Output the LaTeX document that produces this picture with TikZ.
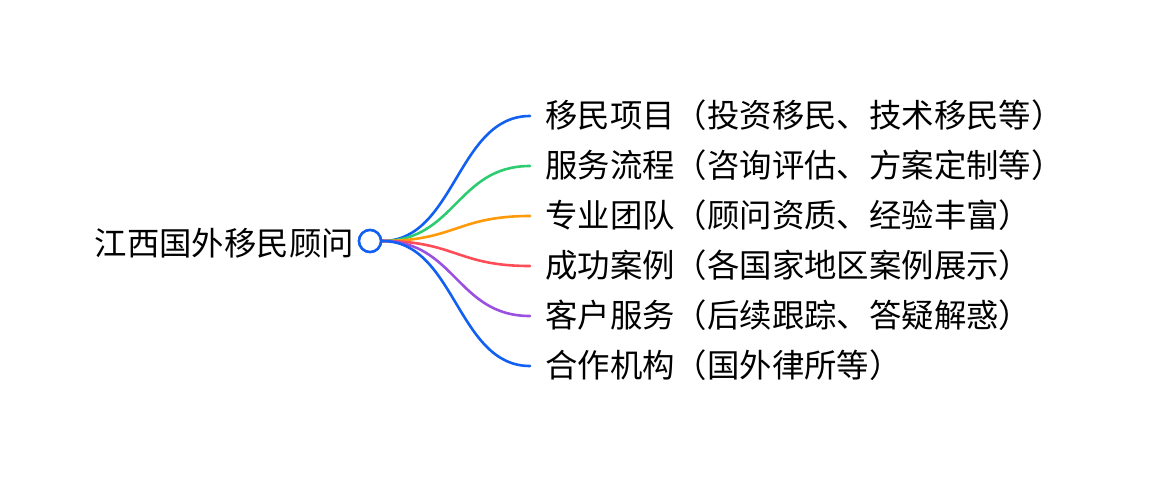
\documentclass[tikz,border=0pt]{standalone}
\usepackage{fontspec}
\usepackage{tikz}
\usetikzlibrary{positioning}
\newfontfamily\cjk{Noto Sans CJK SC}
\definecolor{mapBlue}{HTML}{1160F2}
\definecolor{mapGreen}{HTML}{2ECC71}
\definecolor{mapOrange}{HTML}{FF9A0A}
\definecolor{mapRed}{HTML}{FF4D57}
\definecolor{mapPurple}{HTML}{9B51E0}

\begin{document}
\begin{tikzpicture} [
    x=1pt, y=-1pt,
    rootText/.style={anchor=east, inner sep=0pt, font=\cjk\fontsize{32.4}{32.4}\selectfont},
    hubCircle/.style={circle, draw=mapBlue, line width=2.5pt, fill=white, inner sep=0pt, minimum size=22pt},
    leafText/.style={anchor=west, inner sep=0pt, font=\cjk\fontsize{32.4}{32.4}\selectfont},
    branch/.style={line width=2.6pt, line cap=round}
]
    \useasboundingbox (0,0) rectangle (1156,480);

    % root
    \node[rootText] (root) at (354,243) {江西国外移民顾问};

    % branch ends
    \coordinate (e1) at (530,116);
    \coordinate (e2) at (530,166);
    \coordinate (e3) at (530,216);
    \coordinate (e4) at (530,266);
    \coordinate (e5) at (530,316);
    \coordinate (e6) at (530,366);

    % branches
    \node[hubCircle] (hub) at (370,241) {};
    \draw[branch, mapBlue] (hub.east) .. controls +(73,0) and +(-73,0) .. (e1);
    \draw[branch, mapGreen] (hub.east) .. controls +(73,0) and +(-73,0) .. (e2);
    \draw[branch, mapOrange] (hub.east) .. controls +(73,0) and +(-73,0) .. (e3);
    \draw[branch, mapRed] (hub.east) .. controls +(73,0) and +(-73,0) .. (e4);
    \draw[branch, mapPurple] (hub.east) .. controls +(73,0) and +(-73,0) .. (e5);
    \draw[branch, mapBlue] (hub.east) .. controls +(73,0) and +(-73,0) .. (e6);
    \node[hubCircle] (hubTop) at (hub) {};

    % leaves
    \node[leafText] (t1) at ([xshift=15pt, yshift=1pt]e1) {移民项目（投资移民、技术移民等）};
    \node[leafText] (t2) at ([xshift=15pt, yshift=1pt]e2) {服务流程（咨询评估、方案定制等）};
    \node[leafText] (t3) at ([xshift=15pt, yshift=1pt]e3) {专业团队（顾问资质、经验丰富）};
    \node[leafText] (t4) at ([xshift=15pt, yshift=1pt]e4) {成功案例（各国家地区案例展示）};
    \node[leafText] (t5) at ([xshift=15pt, yshift=1pt]e5) {客户服务（后续跟踪、答疑解惑）};
    \node[leafText] (t6) at ([xshift=15pt, yshift=1pt]e6) {合作机构（国外律所等）};
\end{tikzpicture}
\end{document}
